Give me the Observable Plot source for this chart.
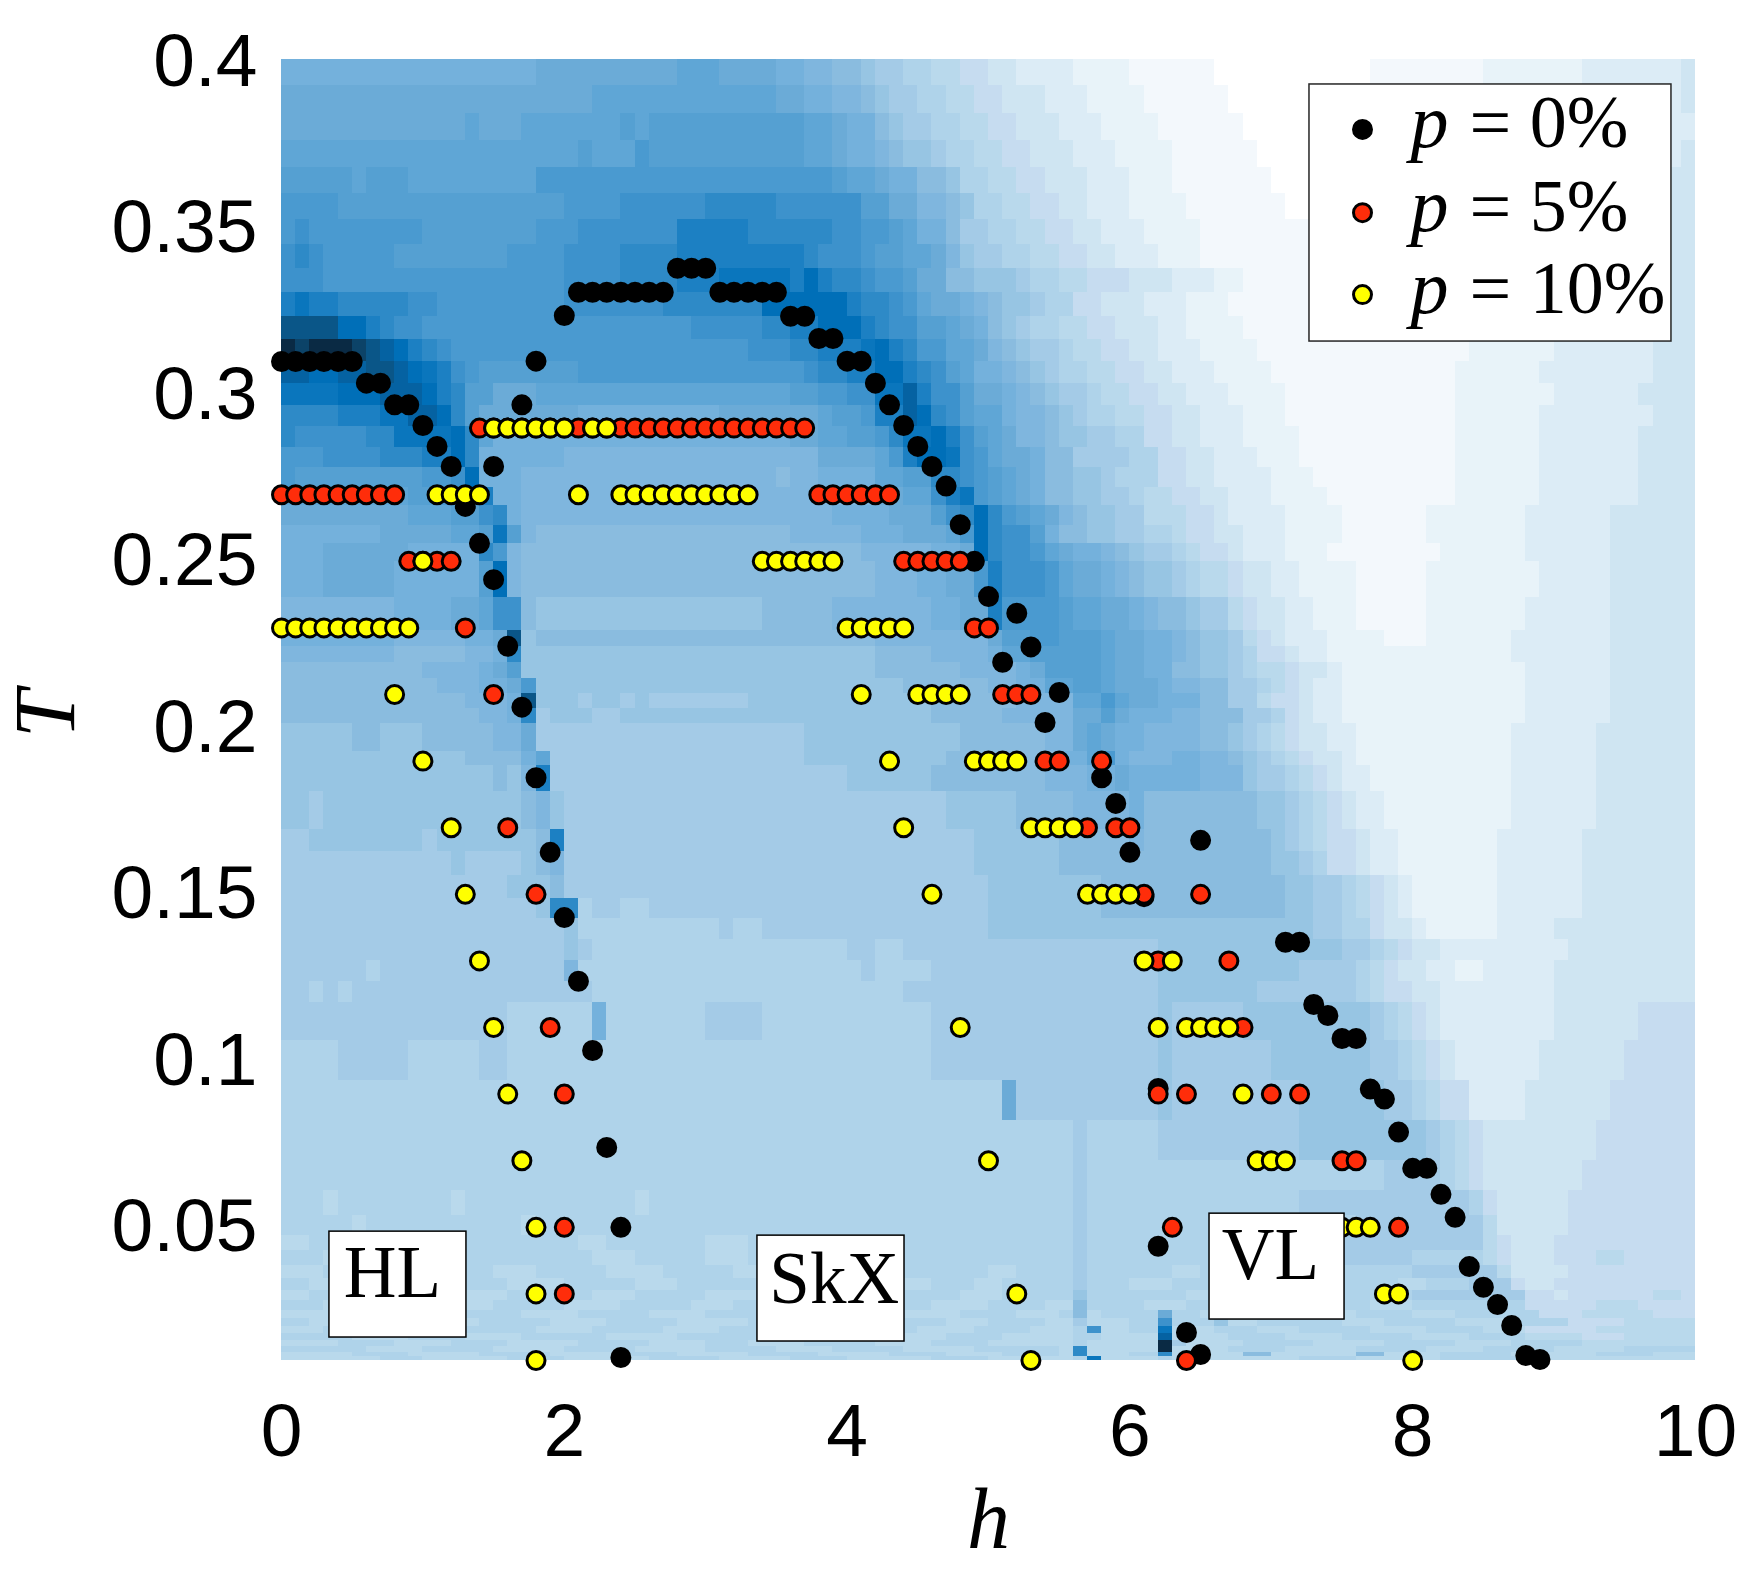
<!DOCTYPE html>
<html><head><meta charset="utf-8">
<style>html,body{margin:0;padding:0;background:#fff}svg{display:block}</style>
<script src="https://cdn.jsdelivr.net/npm/d3@7"></script>
<script src="https://cdn.jsdelivr.net/npm/@observablehq/plot@0.6"></script>
</head><body><div id="chart"></div>
<script>
const xTicks=[0,2,4,6,8,10];
const yTicks=[0.05,0.1,0.15,0.2,0.25,0.3,0.35,0.4];
const levels="abcdefghijklmnopqrstuvwxyz".split("");
const palette=["#ffffff","#f3f8fc","#e8f3f9","#dcecf6","#cfe5f2","#c6dcf0","#b9d9ec","#afd3ea","#a4cbe7","#97c5e3","#8abcdf","#7fb6de","#74b1dc","#6babd7","#5fa6d6","#55a0d2","#4a9ad0","#3d92cc","#2e8ac7","#1c80c3","#0a76bd","#006fb8","#0562a2","#0a5688","#0c4368","#0a2a44"];
// Temperature edges of the heat-map rows (top to bottom)
const rowEdges=[.4007,.3929,.3845,.3764,.3683,.3605,.3526,.3451,.3379,.3307,.3235,.3166,.31,.3034,.2968,.2905,.2842,.2782,.2722,.2668,.2607,.2553,.2499,.2391,.2292,.2244,.2196,.2148,.2103,.2058,.2013,.1929,.1887,.1809,.1695,.1629,.1556,.1487,.1427,.1364,.1301,.1238,.1175,.1061,.0941,.0821,.0701,.0611,.0535,.0475,.043,.0385,.0346,.031,.028,.025,.0226,.0202,.0181,.016,.0142,.0124,.0112,.01];
// Each row: level letter + end column (h = column / 10)
const heatRows=[
"m18 n28 o31 n35 m37 l39 k41 j42 i44 h46 g48 f50 e52 d56 c60 b66 a77 b85 c92 d99 e100",
"n22 o35 n37 m39 l41 k42 j43 i45 h47 g49 f51 e54 d57 c61 b67 a77 b85 c92 d99 e100",
"n13 o14 n17 o24 p25 o26 p37 o39 n40 m42 k43 j44 i46 h48 g50 f52 e55 d58 c62 b68 a77 b85 c92 d100",
"o21 p22 o25 q26 p37 o39 n40 m42 l43 k44 j46 i47 h49 g51 f53 e56 d59 c63 b69 a77 b85 c92 d99 e100",
"p5 o6 p9 o18 q39 p40 o42 n43 m45 k47 j48 h50 g52 f54 e57 d60 c63 b70 a77 b84 c90 d97 e100",
"q4 p20 q24 r30 s35 r41 p43 n45 l47 k48 j49 h51 g53 f55 e57 d60 c64 b71 a77 b84 c90 d97 e100",
"q1 r2 q10 p18 q21 r28 t33 s39 r41 q43 p44 o45 m47 k48 i50 h52 g54 f56 e58 d61 c65 b84 c90 d97 e100",
"r1 s2 r3 q8 p16 q20 r24 s28 t37 s38 r41 q42 p44 o46 n47 l48 j49 i51 h53 g55 f57 e59 d62 c65 b84 c90 d97 e100",
"r3 q20 r24 s28 t31 u36 t37 v38 t39 s41 r42 q44 p45 n47 k49 j52 i53 h55 g57 f60 e63 d66 c68 b84 c90 d97 e100",
"t1 u2 t4 s9 r11 q20 r27 s34 v40 t41 s43 r44 q45 o46 n48 m49 l50 k51 j53 i54 h56 f58 e61 d64 c67 b84 c90 d97 e100",
"x4 v6 t7 s8 r10 q29 r34 s36 t38 v41 t42 s43 r45 p47 o48 n49 m50 k51 j52 i53 h55 g57 f59 e62 d64 c68 b84 c90 d97 e100",
"z1 y2 z5 y6 x7 w8 v9 t10 s11 r12 q33 r36 s38 t41 u42 v43 t44 s45 q47 o49 n50 l51 k52 j53 i55 h56 g58 f60 e62 d65 c69 b84 c90 d97 e100",
"w2 v4 w6 x8 w9 v10 u11 t12 r13 q14 p21 q37 r38 s40 t42 v44 t45 s46 r47 p48 o49 m51 l52 k53 j54 i55 h57 g59 f61 e63 d66 c70 b83 c89 d97 e100",
"u4 v7 w10 v11 t12 s13 p15 n18 o36 p38 q40 r42 u44 w45 t46 r48 p49 n51 m52 l53 k54 j55 i57 h58 g60 f62 e64 d67 c71 b83 c90 d96 e100",
"s4 t7 u9 w11 v12 s13 p14 n21 m31 n38 o39 p41 q42 t44 w45 v46 s47 r48 p49 o51 m52 l54 k55 j56 i57 h59 g61 f63 e65 d68 c71 b83 c89 d97 e100",
"s1 r6 s8 u12 v13 s14 o15 m36 n38 o40 p42 q43 s44 u46 v47 t48 r49 p50 o51 n52 l54 k55 j57 i59 h61 f63 e65 d68 c72 b83 c89 d96 e100",
"q3 r7 s10 t12 v13 s14 m20 l38 n42 o43 q44 t45 v47 u48 r49 q50 o51 n53 m54 k56 i60 h62 f64 e66 d69 c72 b83 c89 d96 e100",
"q1 p10 q12 r13 v14 m17 l35 k36 l38 m42 o44 p46 s48 r49 q50 p51 o52 n53 m54 k56 j58 i59 h62 f64 e66 d70 c73 b83 c89 d96 e100",
"o9 p11 q12 r13 s14 t15 m17 l42 n44 o46 r47 t48 u49 q50 p51 o52 n53 m54 k56 j58 i60 h61 g63 f65 e67 d70 c74 b83 c89 d96 e100",
"n9 o12 p14 r15 s16 m17 l39 m43 n46 p47 r48 s49 v50 s51 q52 p53 o54 n55 l56 k57 j59 i61 g64 f66 e67 d71 c75 b81 c88 d94 e100",
"m7 n12 o14 p15 u16 p17 l18 k36 l41 m44 n47 o48 q49 v50 s51 r53 p54 m55 k57 j59 i61 h63 g64 f66 e68 d71 c75 b81 c88 d94 e100",
"m3 n9 m14 s15 q16 l17 k41 l46 m48 n49 v50 s51 r53 q54 o55 n56 m58 l59 k60 j61 i63 h64 g65 f67 e68 d71 c74 b82 c88 d94 e100",
"m3 n8 m14 p15 v16 l17 k42 l45 m47 n49 q50 t51 r54 q55 o56 n58 m59 l60 k61 j63 i64 h65 g67 f68 e70 d72 c76 b81 c89 d94 e100",
"l8 m12 n14 o15 r17 k18 j34 k39 l46 m48 n50 t51 q55 p56 o58 n60 m61 l62 k64 j65 i67 g68 f69 e71 d73 c76 b81 c88 d94 e100",
"m8 l13 m15 n16 x17 j18 k42 l50 n51 p53 q55 p58 o59 n61 m63 l64 k65 j67 i68 g69 f70 e71 d74 c78 b81 c87 d94 e100",
"l8 k13 l15 m16 s17 j18 j42 k46 l50 m51 o53 p58 o59 n61 m63 l64 k65 j67 i68 h69 f71 e72 d74 c78 c87 d94 e100",
"k10 l14 m15 n16 p17 j18 j42 k48 l52 m53 n54 p58 o59 n61 m63 k65 j67 i68 h69 g71 f72 e74 d75 c88 d94 e100",
"k11 l14 m16 n17 q18 j44 k50 l52 m54 o56 p58 o59 n62 m63 l65 k67 i69 h70 g71 f72 e73 d75 c88 d94 e100",
"k13 l16 m17 x18 j21 i22 j24 i25 j26 i33 j46 k52 l56 o58 q59 o60 n62 m65 k67 i69 g70 f72 e73 d75 c88 d94 e100",
"k14 l16 m17 s18 i19 j22 i24 j46 k51 l56 n58 p59 n60 m63 l65 k68 i70 h71 f72 e73 d75 c88 d94 e100",
"j5 k7 j10 k15 l17 n18 i37 j48 k54 l56 n57 o58 n59 m61 l65 k67 j68 i69 h70 g71 f72 e74 d76 c87 d93 e100",
"j13 k17 m18 o19 i37 j47 k55 m57 o58 q59 m60 l63 m65 l67 k68 j69 i70 h71 g72 f73 e75 d76 c87 d93 e100",
"j15 k16 j17 l18 t19 i40 j46 k54 l57 m59 n60 m65 l68 j69 i71 h72 g73 f74 e75 d77 c87 d93 e100",
"j2 i3 j17 k18 l19 j20 i47 j52 k56 l60 m61 k69 j71 i72 h73 g74 f75 e76 d78 c87 d93 e100",
"i2 j10 i11 j18 k19 t20 i49 j55 k60 l61 k70 j71 i72 h73 g74 f76 e77 d79 c86 d92 e100",
"i12 j13 i17 j18 k19 l20 i49 j55 k70 j72 i73 h74 f76 e77 d79 c86 d92 e100",
"i16 j19 k20 i50 j58 k71 j73 i75 h76 g77 f78 e79 d80 c86 d92 e100",
"i18 j19 s21 h22 i24 h26 i50 j58 k71 j73 i75 h76 g77 f78 e79 d80 c86 d92 e100",
"i20 j21 h31 i32 h34 i50 j73 i75 h77 f78 e80 d81 c86 d90 e100",
"i20 j21 i22 h40 i42 h44 i62 j75 i77 h78 g79 f80 e82 d91 e100",
"i6 h7 i20 l21 h41 i42 h46 i62 j72 i76 h77 g78 f79 e81 d83 c85 d90 e100",
"i2 h3 i4 h5 i22 h44 i62 j69 i76 h77 g78 f80 e82 d90 e100",
"i16 h22 m23 h30 i34 h46 i62 j63 i68 j77 i78 h79 g80 f81 e82 d90 e96 f100",
"h4 i9 h14 i16 h46 i62 j63 i70 j77 i79 h80 g81 f82 e83 d89 e95 f100",
"h51 n52 i62 j63 i72 j78 i80 h81 g82 f84 d88 e94 f100",
"h56 i57 h62 i72 j81 i82 h83 g84 f85 e93 f100",
"h56 i57 h78 i82 h83 g84 f85 e92 f100",
"h3 g4 h12 g13 h25 g26 h56 i57 h72 i84 h85 f86 e91 f100",
"h5 g6 h17 g18 h56 i57 h76 i85 g86 e91 f100",
"g2 h4 g5 h8 g10 h21 g23 h30 g33 h56 i57 h75 i85 g86 f87 e90 f100",
"h3 g6 h12 g13 h22 g25 h30 g33 h40 g42 h56 i57 h74 i80 h85 g86 f87 e90 f93 g95 f100",
"g3 h6 g9 h15 g18 h23 g27 h32 g36 h41 g44 h50 g52 h56 i57 h63 g65 h72 g74 h80 i86 g87 e91 f100",
"h2 g5 h8 g10 h16 g20 h25 g28 h34 g37 h42 g46 h49 g51 h56 i57 h60 g63 h70 g73 h79 g81 h84 i87 f88 e90 f100",
"g2 h6 g9 h13 g16 h22 g25 h30 g34 h39 g43 h48 g51 h56 j57 h64 g67 h72 g75 h80 i88 f90 e91 f97 g99 f100",
"h3 g7 h11 g15 h20 g24 h29 g32 h38 g41 h46 g50 h54 g56 k57 h61 g64 h69 g72 h77 g80 h88 f93 g96 f100",
"g4 h7 g12 h17 g21 h26 g30 h35 g40 h44 g48 h52 g55 h56 k57 g58 h62 n63 h65 g68 h73 g76 h80 g83 h89 f92 g97 f100",
"h2 g6 h10 g14 h19 g23 h28 g33 h37 g42 h47 g50 h54 g56 i57 g60 h62 r63 h66 j67 g69 h75 g78 h83 g87 h91 f95 g100",
"g3 h8 g13 h18 g22 h27 g31 h36 g39 h45 g49 h53 g56 h57 r58 g60 h62 u63 g66 h69 g72 h77 g81 h85 g88 f93 g100",
"h5 g9 h13 g17 h23 g28 h34 g38 h43 g47 h51 g56 h58 g62 w63 g67 h71 g75 h80 g84 h88 g92 f95 g100",
"g4 h8 g12 h16 g21 h26 g30 h33 g37 h42 g46 h50 g56 h57 g62 z63 i64 g68 h73 g78 h83 g87 h92 g100",
"h6 g10 h15 g20 h25 g30 h35 g39 h44 g49 h55 g56 s57 g62 z63 g67 h71 g76 h81 g85 h90 g95 h100",
"g5 h9 g14 h19 g24 h28 g33 h38 g43 h47 g51 h55 g56 s57 g60 h62 s63 g68 k70 g76 k78 g82 h87 g93 h97 g100",
"g7 h10 g16 h20 g26 h31 g36 h40 g46 h50 g56 h57 u58 g62 h63 g72 h76 g82 h88 g100"
];
// p = 0 % transition points
const p0h=[0,.1,.2,.3,.4,.5,.6,.7,.8,.9,1,1.1,1.2,1.3,1.4,1.5,1.6,1.7,1.8,1.9,2,2.1,2.2,2.3,2.4,2.4,1.5,1.7,1.8,2,2.1,2.2,2.3,2.4,2.5,2.6,2.7,2.8,2.9,3,3.1,3.2,3.3,3.4,3.5,3.6,3.7,3.8,3.9,4,4.1,4.2,4.3,4.4,4.5,4.6,4.7,4.8,4.9,5,5.1,5.2,5.3,5.4,5.5,5.8,5.9,6,6.1,6.5,6.2,6.2,6.4,6.5,7.1,7.2,7.3,7.4,7.5,7.6,7.7,7.8,7.9,8,8.1,8.2,8.3,8.4,8.5,8.6,8.7,8.8,8.9];
const p0T=[.31,.31,.31,.31,.31,.31,.3035,.3035,.297,.297,.2908,.2845,.2785,.2665,.2554,.2445,.2245,.2062,.185,.1626,.143,.1239,.1031,.074,.05,.0109,.2785,.297,.3101,.3238,.3308,.3308,.3308,.3308,.3308,.3308,.3308,.338,.338,.338,.3308,.3308,.3308,.3308,.3308,.3236,.3236,.3169,.3169,.3101,.3101,.3035,.297,.2908,.2845,.2785,.2726,.261,.25,.2394,.2197,.2344,.2243,.2016,.2106,.185,.1773,.1626,.1493,.1662,.0917,.0443,.0184,.0118,.1356,.1356,.1169,.1136,.1067,.1067,.0915,.0885,.0786,.0677,.0677,.0599,.053,.0382,.032,.0268,.0205,.0115,.0103];
// p = 5 % rows: [T, h values]
const p5Rows=[
[.29,[1.4,1.5,1.6,1.7,1.8,1.9,2,2.1,2.2,2.3,2.4,2.5,2.6,2.7,2.8,2.9,3,3.1,3.2,3.3,3.4,3.5,3.6,3.7]],
[.27,[0,.1,.2,.3,.4,.5,.6,.7,.8,3.8,3.9,4,4.1,4.2,4.3]],
[.25,[.9,1,1.1,1.2,4.4,4.5,4.6,4.7,4.8]],
[.23,[1.3,4.9,5]],
[.21,[1.5,5.1,5.2,5.3]],
[.19,[5.4,5.5,5.8]],
[.17,[1.6,5.7,5.9,6]],
[.15,[1.8,6.1,6.5]],
[.13,[6.2,6.7]],
[.11,[1.9,6.8]],
[.09,[2,6.2,6.4,7,7.2]],
[.07,[7.5,7.6]],
[.05,[2,6.3,7.9]],
[.03,[2]],
[.01,[6.4]]
];
// p = 10 % rows: [T, h values]
const p10Rows=[
[.29,[1.5,1.6,1.7,1.8,1.9,2,2.2,2.3]],
[.27,[1.1,1.2,1.3,1.4,2.1,2.4,2.5,2.6,2.7,2.8,2.9,3,3.1,3.2,3.3]],
[.25,[1,3.4,3.5,3.6,3.7,3.8,3.9]],
[.23,[0,.1,.2,.3,.4,.5,.6,.7,.8,.9,4,4.1,4.2,4.3,4.4]],
[.21,[.8,4.1,4.5,4.6,4.7,4.8]],
[.19,[1,4.3,4.9,5,5.1,5.2]],
[.17,[1.2,4.4,5.3,5.4,5.5,5.6]],
[.15,[1.3,4.6,5.7,5.8,5.9,6]],
[.13,[1.4,6.1,6.3]],
[.11,[1.5,4.8,6.2,6.4,6.5,6.6,6.7]],
[.09,[1.6,6.8]],
[.07,[1.7,5,6.9,7,7.1]],
[.05,[1.8,7.5,7.6,7.7]],
[.03,[1.8,5.2,7.8,7.9]],
[.01,[1.8,5.3,8]]
];
// Region labels and legend, in (h, T) units
const regionNames=["HL","SkX","VL"];
const regionBoxH1=[.339,3.366,6.563];
const regionBoxH2=[1.308,4.406,7.518];
const regionBoxT1=[.0169,.0157,.0223];
const regionBoxT2=[.0487,.0475,.0541];
const regionTextH=[.44,3.45,6.65];
const regionTextT=[.0292,.0274,.0346];
const legendNames=["= 0%","= 5%","= 10%"];
const legendColors=["#000000","#ff2d0a","#ffff00"];
const legendT=[.3797,.3547,.3301];
const legendBaseT=[.3743,.3493,.3247];

const cells=[];
heatRows.forEach((row,i)=>{let c=0;row.split(" ").forEach(tok=>{const end=+tok.slice(1);cells.push({h1:c/10,h2:end/10,T1:rowEdges[i+1],T2:rowEdges[i],level:tok[0]});c=end;});});
const expand=rows=>rows.flatMap(([T,hs])=>hs.map(h=>({h,T})));
const p0=p0h.map((h,i)=>({h,T:p0T[i]}));
const p5=expand(p5Rows),p10=expand(p10Rows);
const regions=regionNames.map((name,i)=>({name,h1:regionBoxH1[i],h2:regionBoxH2[i],T1:regionBoxT1[i],T2:regionBoxT2[i],tx:regionTextH[i],ty:regionTextT[i]}));
const legend=legendNames.map((name,i)=>({name,color:legendColors[i],T:legendT[i],base:legendBaseT[i]}));
const serif='"Liberation Serif",serif', sans='"Liberation Sans",Arial,sans-serif';
const dotOpts={x:"h",y:"T",r:9,stroke:"#000",strokeWidth:3};
const chart=Plot.plot({
 width:1759,height:1580,marginLeft:281,marginRight:64,marginTop:59,marginBottom:220,
 style:{background:"white",overflow:"visible"},
 x:{domain:[0,10],range:[281,1695],axis:null},
 y:{domain:[.01,.4007],range:[1360,59],axis:null},
 color:{type:"ordinal",domain:levels,range:palette},
 marks:[
  Plot.rect(cells,{x1:"h1",x2:"h2",y1:"T1",y2:"T2",fill:"level",shapeRendering:"crispEdges"}),
  Plot.axisX({ticks:xTicks,tickSize:0,tickPadding:0,fontSize:75,fontFamily:sans,label:null,dy:42,fill:"#000",tickFormat:d3.format("d")}),
  Plot.axisY({ticks:yTicks,tickSize:0,tickPadding:24,fontSize:75,fontFamily:sans,label:null,fill:"#000",tickFormat:d3.format("~g")}),
  Plot.dot(p0,{...dotOpts,fill:"#000"}),
  Plot.dot(p5,{...dotOpts,fill:"#ff2d0a"}),
  Plot.dot(p10,{...dotOpts,fill:"#ffff00"}),
  Plot.rect(regions,{x1:"h1",x2:"h2",y1:"T1",y2:"T2",fill:"#fff",stroke:"#000",strokeWidth:1.5}),
  Plot.text(regions,{x:"tx",y:"ty",text:"name",fontFamily:serif,fontSize:73,fill:"#000",textAnchor:"start",lineAnchor:"bottom"}),
  Plot.rect([{h1:7.27,h2:9.83,T1:.316,T2:.3932}],{x1:"h1",x2:"h2",y1:"T1",y2:"T2",fill:"#fff",stroke:"#262626",strokeWidth:1.5}),
  Plot.dot(legend,{x:()=>7.645,y:"T",r:9,stroke:"#000",strokeWidth:3,fill:"color"}),
  Plot.text(legend,{x:()=>7.984,y:"base",text:()=>"p",fontFamily:serif,fontStyle:"italic",fontSize:76,fill:"#000",textAnchor:"start",lineAnchor:"bottom"}),
  Plot.text(legend,{x:()=>8.402,y:"base",text:"name",fontFamily:serif,fontSize:74,fill:"#000",textAnchor:"start",lineAnchor:"bottom"}),
  Plot.text([{h:5,T:-.0462,s:"h"}],{x:"h",y:"T",text:"s",fontFamily:serif,fontStyle:"italic",fontSize:86,fill:"#000",lineAnchor:"bottom"}),
  Plot.text([{h:-1.47,T:.2041,s:"T"}],{x:"h",y:"T",text:"s",rotate:-90,fontFamily:serif,fontStyle:"italic",fontSize:86,fill:"#000",lineAnchor:"bottom"})
 ]
});
document.getElementById("chart").appendChild(chart);
</script>
</body></html>
